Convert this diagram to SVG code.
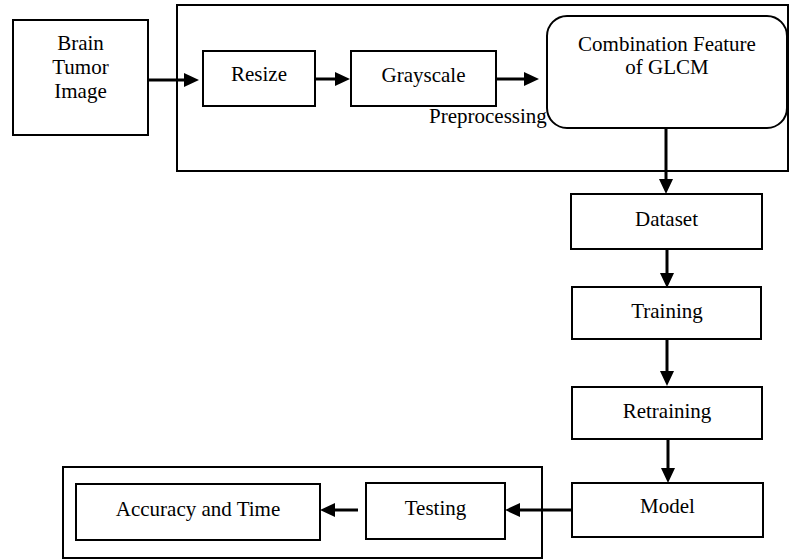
<svg xmlns="http://www.w3.org/2000/svg" width="789" height="559" viewBox="0 0 789 559">
<style>
.b{fill:#fff;stroke:#000;stroke-width:2}
.f{fill:none;stroke:#000;stroke-width:2}
.t{font-family:'Liberation Serif','DejaVu Serif',serif;font-size:21px;fill:#000;text-anchor:middle}
.c{fill:none;stroke:#000;stroke-width:3;marker-end:url(#ah)}
</style>
<defs>
<marker id="ah" markerUnits="userSpaceOnUse" markerWidth="15" markerHeight="14" refX="0" refY="7" orient="auto">
<path d="M0,0 L15,7 L0,14 z" fill="#000"/>
</marker>
</defs>
<rect width="789" height="559" fill="#fff"/>
<g id="preprocessing">
<rect class="f" x="177" y="5" width="611" height="166"/>
<text class="t" x="429" y="123" font-family="Liberation Serif, serif" style="text-anchor:start">Preprocessing</text>
</g>
<g id="testing-group">
<rect class="f" x="63" y="467" width="479" height="91"/>
</g>
<g id="brain">
<rect class="b" x="13" y="20" width="135" height="115"/>
<text class="t" x="80.5" y="50">Brain</text>
<text class="t" x="80.5" y="74">Tumor</text>
<text class="t" x="80.5" y="98">Image</text>
</g>
<g id="resize">
<rect class="b" x="203" y="51" width="112" height="55"/>
<text class="t" x="259" y="81">Resize</text>
</g>
<g id="grayscale">
<rect class="b" x="351" y="51" width="145" height="55"/>
<text class="t" x="423.5" y="81.5">Grayscale</text>
</g>
<g id="glcm">
<rect class="b" x="547" y="16" width="240" height="112" rx="20" ry="20"/>
<text class="t" x="667" y="51">Combination Feature</text>
<text class="t" x="667" y="74">of GLCM</text>
</g>
<g id="dataset">
<rect class="b" x="571" y="194" width="191" height="55"/>
<text class="t" x="666.5" y="226">Dataset</text>
</g>
<g id="training">
<rect class="b" x="572" y="287" width="189" height="52"/>
<text class="t" x="667" y="318">Training</text>
</g>
<g id="retraining">
<rect class="b" x="572" y="387" width="190" height="52"/>
<text class="t" x="667" y="418">Retraining</text>
</g>
<g id="model">
<rect class="b" x="572" y="483" width="191" height="54"/>
<text class="t" x="667.5" y="513">Model</text>
</g>
<g id="testing">
<rect class="b" x="366" y="483" width="139" height="56"/>
<text class="t" x="435.5" y="515">Testing</text>
</g>
<g id="accuracy">
<rect class="b" x="76" y="484" width="244" height="56"/>
<text class="t" x="198" y="516">Accuracy and Time</text>
</g>
<g id="connectors">
<line class="c" x1="148" y1="80" x2="184" y2="80"/>
<line class="c" x1="315" y1="79" x2="335" y2="79"/>
<line class="c" x1="496" y1="79" x2="524" y2="79"/>
<line class="c" x1="666" y1="128" x2="666" y2="179"/>
<line class="c" x1="667" y1="249" x2="667" y2="273"/>
<line class="c" x1="667" y1="339" x2="667" y2="371"/>
<line class="c" x1="668" y1="439" x2="668" y2="468"/>
<line class="c" x1="572" y1="510" x2="520" y2="510"/>
<line class="c" x1="358" y1="510" x2="335" y2="510"/>
</g>
</svg>
